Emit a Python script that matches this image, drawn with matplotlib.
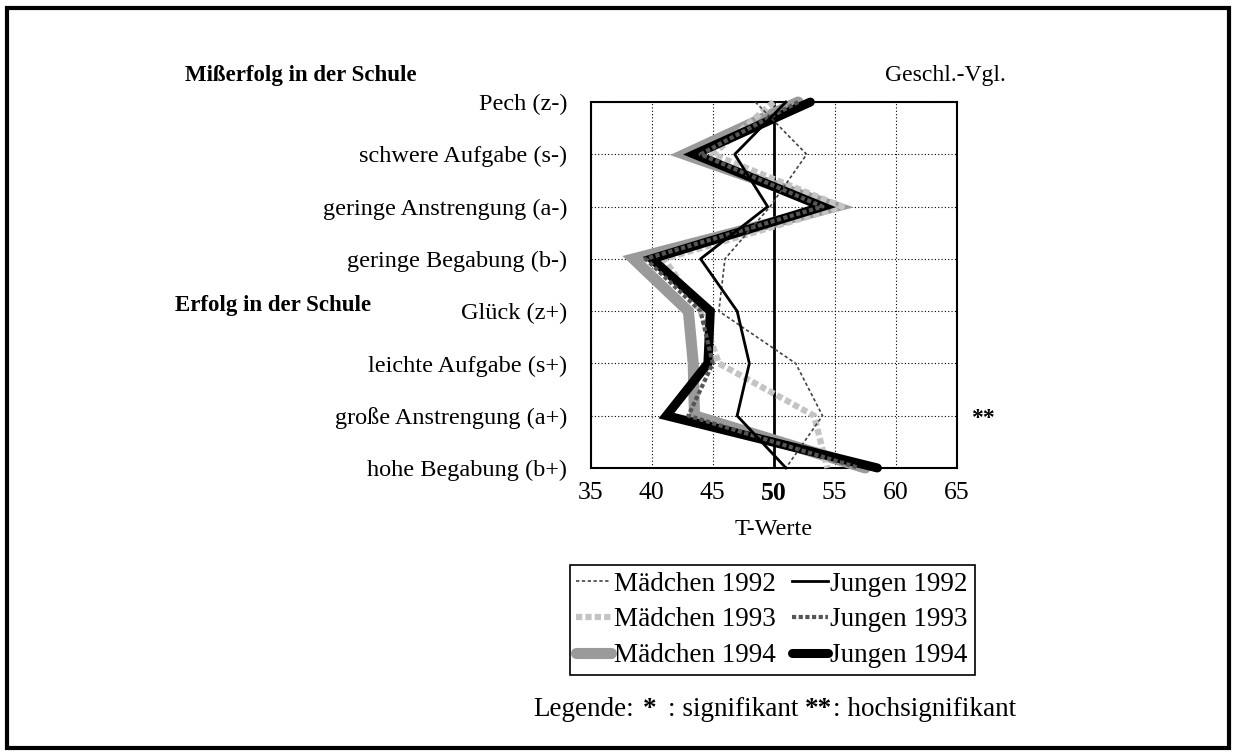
import matplotlib
matplotlib.use("Agg")
import matplotlib.pyplot as plt
from matplotlib.patches import Rectangle

plt.rcParams['font.family'] = ['Liberation Serif', 'DejaVu Serif']

# categories, top to bottom
kategorien = ["Pech (z-)", "schwere Aufgabe (s-)", "geringe Anstrengung (a-)",
              "geringe Begabung (b-)", "Glück (z+)", "leichte Aufgabe (s+)",
              "große Anstrengung (a+)", "hohe Begabung (b+)"]

# T-Werte
maedchen_1992 = [48.5, 52.7, 49.7, 46.0, 45.5, 51.8, 54.0, 51.0]
jungen_1992 = [51.0, 46.8, 49.5, 44.0, 47.0, 48.0, 47.0, 51.0]
maedchen_1993 = [50.0, 45.0, 55.6, 41.0, 44.0, 45.5, 53.3, 54.4]
jungen_1993 = [52.0, 44.0, 54.0, 39.5, 44.0, 45.0, 43.0, 57.0]
maedchen_1994 = [52.0, 42.7, 55.0, 38.5, 43.0, 43.4, 43.5, 57.5]
jungen_1994 = [53.0, 43.5, 54.0, 40.0, 44.8, 44.6, 41.2, 58.5]

x_ticks = [35, 40, 45, 50, 55, 60, 65]

fig = plt.figure(figsize=(12.36, 7.56), dpi=100)
ax = fig.add_axes([0.478, 0.381, 0.296, 0.484])

pos = list(range(len(kategorien)))

l5, = ax.plot(maedchen_1994, pos, color="#9a9a9a", lw=8, solid_capstyle='round',
              solid_joinstyle='miter', label="Mädchen 1994", zorder=3)
l3, = ax.plot(maedchen_1993, pos, color="#c4c4c4", lw=4.5, linestyle=(0, (1, 0.5)),
              label="Mädchen 1993", zorder=4)
l6, = ax.plot(jungen_1994, pos, color="black", lw=6.5, solid_capstyle='round',
              solid_joinstyle='miter', label="Jungen 1994", zorder=5)
l4, = ax.plot(jungen_1993, pos, color="#555555", lw=3, linestyle=(0, (1, 0.6)),
              label="Jungen 1993", zorder=6)
l1, = ax.plot(maedchen_1992, pos, color="#444444", lw=1.2, linestyle=(0, (2, 1.5)),
              label="Mädchen 1992", zorder=7)
l2, = ax.plot(jungen_1992, pos, color="black", lw=2, label="Jungen 1992", zorder=8)
for l in (l1, l2, l3, l4, l5, l6):
    l.set_clip_on(False)

ax.axvline(50, color="black", lw=2, zorder=2)
ax.set_xlim(35, 65)
ax.set_ylim(7, 0)
ax.set_xticks(x_ticks)
ax.set_xticklabels([str(t) for t in x_ticks], fontsize=18.5)
ax.get_xticklabels()[3].set_fontweight('bold')
ax.set_yticks(pos)
ax.set_yticklabels(kategorien, fontsize=17.5)
ax.tick_params(length=0)
ax.tick_params(axis='x', pad=10)
ax.tick_params(axis='y', pad=17)
ax.grid(True, color="black", linestyle=(0, (1, 2)), lw=0.8)
for s in ax.spines.values():
    s.set_linewidth(1.5)
ax.set_xlabel("T-Werte", fontsize=17.5, labelpad=10)

fig.text(185 / 1236, 1 - 75 / 756, "Mißerfolg in der Schule", fontsize=16.5,
         fontweight='bold', va='center', ha='left')
fig.text(175 / 1236, 1 - 305 / 756, "Erfolg in der Schule", fontsize=16.5,
         fontweight='bold', va='center', ha='left')
fig.text(945 / 1236, 1 - 75 / 756, "Geschl.-Vgl.", fontsize=17, va='center', ha='center')
fig.text(983 / 1236, 1 - 418 / 756, "**", fontsize=17, fontweight='bold', va='center',
         ha='center')

leg = fig.legend([l1, l3, l5, l2, l4, l6],
                 ["Mädchen 1992", "Mädchen 1993", "Mädchen 1994",
                  "Jungen 1992", "Jungen 1993", "Jungen 1994"],
                 ncol=2, loc='center', bbox_to_anchor=(772 / 1236, 1 - 620 / 756),
                 fontsize=19.5, fancybox=False, edgecolor="black", framealpha=1,
                 handlelength=1.3, handletextpad=0.1, columnspacing=0.6,
                 borderpad=0.25, labelspacing=0.4)
leg.get_frame().set_linewidth(1.2)

# footnote, pieces placed where the reference has them
y_leg = 1 - 710 / 756
fig.text(533 / 1236, y_leg, "Legende:", fontsize=19.5, va='center', ha='left')
fig.text(643 / 1236, y_leg, "*", fontsize=19.5, fontweight='bold', va='center', ha='left')
fig.text(668 / 1236, y_leg, ": signifikant", fontsize=19.5, va='center', ha='left')
fig.text(805 / 1236, y_leg, "**", fontsize=19.5, fontweight='bold', va='center', ha='left')
fig.text(833 / 1236, y_leg, ": hochsignifikant", fontsize=19.5, va='center', ha='left')

fig.patches.append(Rectangle((0.006, 0.01), 0.988, 0.98, transform=fig.transFigure,
                             fill=False, edgecolor="black", lw=3))

fig.savefig("out.png", dpi=100)
